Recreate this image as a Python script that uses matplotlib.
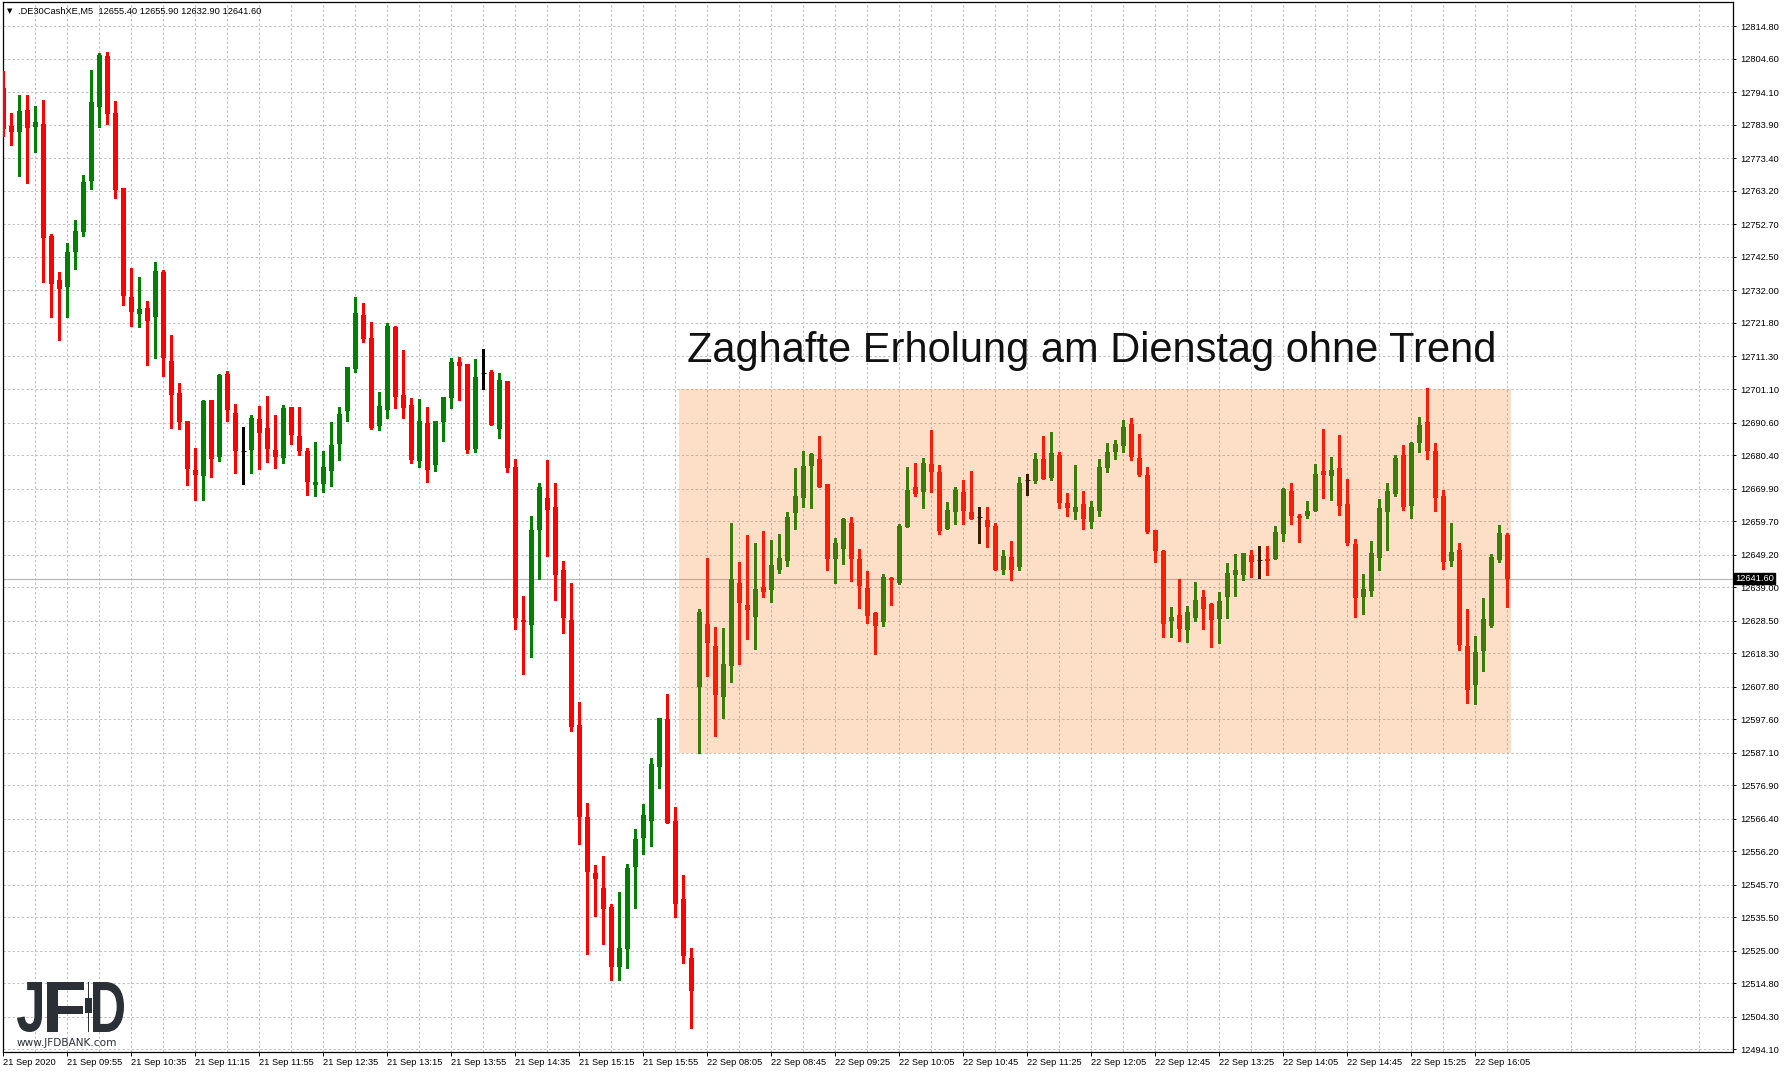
import matplotlib
matplotlib.use('Agg')
import matplotlib.pyplot as plt
import numpy as np
from matplotlib.patches import Rectangle, PathPatch
from matplotlib.textpath import TextPath
from matplotlib.font_manager import FontProperties
from matplotlib.transforms import Affine2D, IdentityTransform, blended_transform_factory

# DE30, M5 candles, 21 Sep 09:15 .. 22 Sep 16:25
o = [12795.5, 12783.6, 12781.7, 12788.6, 12783.2, 12784.2, 12749.1, 12735.3, 12733.1, 12744.1,
     12750.3, 12766.3, 12789.5, 12805.5, 12787.6, 12764.1, 12729.9, 12724.6, 12726.5, 12723.7,
     12737.8, 12709.9, 12699.9, 12691.1, 12675.7, 12673.8, 12697.7, 12679.8, 12705.8, 12693.6,
     12681.6, 12682.0, 12691.7, 12688.9, 12682.0, 12679.5, 12695.5, 12686.4, 12681.7, 12671.0,
     12671.3, 12675.4, 12683.9, 12694.2, 12707.4, 12724.3, 12717.1, 12689.5, 12694.5, 12720.6,
     12699.2, 12696.1, 12678.5, 12690.5, 12677.3, 12690.8, 12698.3, 12709.6, 12709.0, 12682.3,
     12706.1, 12706.4, 12688.6, 12703.6, 12676.5, 12628.6, 12627.0, 12656.9, 12666.9, 12664.1,
     12644.4, 12628.6, 12595.7, 12566.9, 12549.3, 12544.6, 12538.7, 12520.0, 12525.5, 12551.3,
     12560.4, 12565.6, 12582.7, 12597.6, 12565.6, 12541.1, 12522.7, 12607.6, 12627.4, 12620.5,
     12604.6, 12614.4, 12640.3, 12633.4, 12629.7, 12639.0, 12638.1, 12644.4, 12647.2, 12662.2,
     12666.9, 12677.0, 12679.2, 12671.3, 12647.8, 12651.0, 12659.1, 12647.8, 12638.7, 12630.9,
     12628.1, 12641.9, 12640.3, 12657.8, 12670.4, 12668.8, 12677.6, 12675.1, 12657.2, 12662.5,
     12668.8, 12662.5, 12661.0, 12660.0, 12658.2, 12644.4, 12648.4, 12645.3, 12672.6, 12672.3,
     12679.2, 12673.2, 12680.4, 12665.4, 12662.5, 12665.1, 12659.4, 12662.9, 12676.3, 12681.4,
     12683.2, 12690.1, 12679.5, 12674.1, 12656.9, 12650.3, 12628.4, 12630.3, 12625.5, 12629.3,
     12635.9, 12633.7, 12629.0, 12635.9, 12642.8, 12642.8, 12649.1, 12647.5, 12647.8, 12647.8,
     12655.6, 12669.1, 12661.3, 12661.3, 12662.9, 12675.4, 12673.8, 12676.3, 12665.1, 12652.5,
     12635.9, 12637.8, 12648.1, 12662.5, 12668.2, 12680.4, 12664.4, 12684.2, 12690.8, 12681.7,
     12667.6, 12647.2, 12650.6, 12620.5, 12608.3, 12619.0, 12626.8, 12647.5, 12655.4]
h = [12800.8, 12787.6, 12793.3, 12793.3, 12789.8, 12791.7, 12749.7, 12737.8, 12746.9, 12754.1,
     12768.2, 12801.1, 12806.4, 12806.8, 12791.4, 12764.1, 12739.0, 12736.2, 12728.7, 12740.9,
     12738.4, 12718.0, 12703.0, 12691.1, 12682.6, 12697.7, 12697.7, 12705.8, 12706.8, 12696.4,
     12689.2, 12693.0, 12695.8, 12698.9, 12693.0, 12696.1, 12695.5, 12695.5, 12682.6, 12684.5,
     12681.7, 12690.8, 12695.5, 12708.0, 12729.9, 12728.1, 12722.1, 12700.2, 12721.8, 12720.9,
     12713.3, 12698.3, 12698.0, 12695.5, 12691.1, 12698.6, 12710.8, 12711.1, 12709.0, 12710.5,
     12713.7, 12707.1, 12706.1, 12703.6, 12679.3, 12636.3, 12661.4, 12671.6, 12678.8, 12671.7,
     12647.1, 12640.2, 12602.9, 12571.3, 12551.8, 12554.7, 12539.6, 12543.3, 12552.2, 12563.1,
     12570.9, 12585.3, 12597.9, 12605.5, 12570.0, 12548.9, 12526.0, 12632.0, 12648.1, 12626.5,
     12626.2, 12659.0, 12646.9, 12655.3, 12652.8, 12656.6, 12653.8, 12655.7, 12662.5, 12676.3,
     12681.7, 12681.0, 12686.4, 12671.3, 12654.4, 12660.7, 12661.0, 12651.0, 12644.1, 12631.2,
     12643.1, 12642.2, 12658.8, 12676.7, 12677.9, 12679.5, 12688.3, 12677.3, 12665.7, 12670.4,
     12672.6, 12675.4, 12664.1, 12664.1, 12659.1, 12650.5, 12653.5, 12673.5, 12674.5, 12681.0,
     12686.4, 12687.6, 12681.4, 12668.5, 12677.3, 12669.1, 12666.0, 12679.2, 12684.2, 12685.1,
     12691.4, 12692.0, 12687.0, 12676.7, 12656.9, 12650.6, 12632.8, 12641.5, 12633.1, 12640.6,
     12638.1, 12634.0, 12637.5, 12646.6, 12649.4, 12649.7, 12650.6, 12651.9, 12651.9, 12658.2,
     12670.1, 12671.6, 12661.9, 12666.0, 12677.6, 12688.6, 12679.8, 12686.7, 12672.9, 12654.1,
     12643.1, 12653.5, 12666.6, 12671.6, 12680.4, 12683.5, 12684.5, 12692.3, 12701.4, 12684.2,
     12669.4, 12659.1, 12652.8, 12632.1, 12623.7, 12635.6, 12649.4, 12658.5, 12655.9]
l = [12780.5, 12777.6, 12767.9, 12765.7, 12775.4, 12734.6, 12723.7, 12716.5, 12723.7, 12738.7,
     12749.1, 12763.8, 12783.2, 12784.2, 12761.0, 12727.4, 12720.9, 12720.5, 12708.6, 12710.8,
     12705.2, 12688.9, 12688.6, 12671.0, 12666.3, 12666.3, 12673.5, 12678.5, 12691.1, 12674.8,
     12671.3, 12674.8, 12676.0, 12678.2, 12676.3, 12677.9, 12683.9, 12680.4, 12667.9, 12667.6,
     12668.8, 12670.7, 12678.9, 12691.1, 12706.4, 12715.8, 12688.6, 12688.3, 12692.0, 12695.2,
     12692.0, 12677.9, 12676.7, 12672.0, 12675.4, 12684.8, 12695.2, 12697.7, 12681.1, 12681.4,
     12701.1, 12689.8, 12685.8, 12675.1, 12625.9, 12611.9, 12617.2, 12641.4, 12648.8, 12635.0,
     12624.7, 12593.9, 12558.5, 12524.0, 12535.9, 12527.2, 12515.9, 12515.9, 12519.7, 12538.3,
     12555.4, 12557.8, 12575.9, 12565.0, 12535.7, 12521.3, 12500.8, 12587.0, 12611.1, 12592.4,
     12598.0, 12609.4, 12614.9, 12622.8, 12619.7, 12636.0, 12634.4, 12643.4, 12645.6, 12657.2,
     12664.0, 12663.8, 12670.4, 12644.4, 12640.4, 12646.2, 12640.9, 12632.4, 12627.7, 12618.0,
     12626.8, 12633.4, 12640.0, 12657.8, 12667.6, 12663.8, 12668.8, 12655.7, 12657.2, 12658.8,
     12658.8, 12660.3, 12652.8, 12651.6, 12644.4, 12643.1, 12641.2, 12644.4, 12667.9, 12671.6,
     12672.9, 12672.6, 12663.8, 12661.3, 12660.3, 12657.2, 12657.5, 12661.3, 12675.1, 12679.2,
     12681.4, 12678.8, 12673.8, 12656.0, 12646.9, 12623.4, 12623.4, 12622.1, 12621.8, 12628.4,
     12625.9, 12620.2, 12621.5, 12629.3, 12636.2, 12641.2, 12642.2, 12641.9, 12642.8, 12647.8,
     12653.5, 12658.8, 12653.1, 12660.7, 12662.9, 12666.9, 12666.3, 12661.6, 12652.2, 12629.6,
     12630.6, 12636.2, 12644.4, 12650.6, 12667.6, 12663.2, 12660.7, 12681.4, 12679.2, 12662.9,
     12644.7, 12645.6, 12619.3, 12602.7, 12602.3, 12612.7, 12626.5, 12646.9, 12632.9]
c = [12782.7, 12781.5, 12788.3, 12783.0, 12784.8, 12748.5, 12734.0, 12732.5, 12744.1, 12750.6,
     12766.0, 12791.1, 12805.8, 12787.3, 12763.5, 12730.3, 12725.2, 12726.2, 12722.4, 12738.1,
     12710.8, 12699.2, 12690.8, 12676.0, 12674.2, 12697.4, 12679.2, 12705.5, 12694.5, 12681.7,
     12681.6, 12692.0, 12687.3, 12682.3, 12679.8, 12695.2, 12686.7, 12681.7, 12671.9, 12671.9,
     12676.7, 12683.6, 12693.3, 12708.0, 12724.9, 12716.8, 12688.9, 12695.8, 12720.9, 12698.6,
     12695.2, 12678.9, 12691.1, 12675.7, 12691.1, 12698.6, 12709.6, 12708.3, 12682.0, 12704.9,
     12706.1, 12689.8, 12703.9, 12676.3, 12629.4, 12628.1, 12656.9, 12670.4, 12663.2, 12642.8,
     12629.2, 12595.1, 12566.9, 12549.7, 12547.4, 12538.1, 12520.0, 12526.0, 12550.9, 12560.0,
     12567.5, 12583.5, 12597.9, 12565.0, 12539.6, 12523.3, 12512.3, 12631.2, 12621.4, 12605.1,
     12614.9, 12641.5, 12634.1, 12631.9, 12638.4, 12637.5, 12645.9, 12648.1, 12661.0, 12667.6,
     12677.0, 12680.7, 12670.4, 12647.8, 12652.8, 12660.4, 12647.8, 12639.3, 12629.9, 12626.8,
     12642.2, 12641.2, 12658.2, 12669.4, 12668.2, 12677.9, 12675.1, 12656.6, 12663.2, 12669.4,
     12662.9, 12660.3, 12661.0, 12657.8, 12644.4, 12648.8, 12644.4, 12671.6, 12672.6, 12679.2,
     12672.9, 12681.0, 12665.4, 12663.8, 12664.1, 12660.3, 12664.1, 12676.7, 12681.4, 12683.9,
     12689.2, 12679.8, 12674.1, 12656.3, 12650.3, 12627.4, 12629.6, 12625.8, 12631.2, 12635.0,
     12632.1, 12628.7, 12634.6, 12643.4, 12644.4, 12649.7, 12646.9, 12647.5, 12647.2, 12656.3,
     12669.8, 12661.3, 12660.7, 12662.9, 12674.5, 12674.1, 12675.7, 12664.4, 12652.8, 12635.6,
     12638.4, 12649.7, 12663.8, 12669.1, 12679.5, 12664.1, 12684.2, 12689.8, 12681.7, 12666.9,
     12646.9, 12650.0, 12620.8, 12606.7, 12618.7, 12629.0, 12648.4, 12656.0, 12641.6]

x_labels = ['21 Sep 2020', '21 Sep 09:55', '21 Sep 10:35', '21 Sep 11:15', '21 Sep 11:55',
            '21 Sep 12:35', '21 Sep 13:15', '21 Sep 13:55', '21 Sep 14:35', '21 Sep 15:15',
            '21 Sep 15:55', '22 Sep 08:05', '22 Sep 08:45', '22 Sep 09:25', '22 Sep 10:05',
            '22 Sep 10:45', '22 Sep 11:25', '22 Sep 12:05', '22 Sep 12:45', '22 Sep 13:25',
            '22 Sep 14:05', '22 Sep 14:45', '22 Sep 15:25', '22 Sep 16:05']
y_labels = ['12814.80', '12804.60', '12794.10', '12783.90', '12773.40', '12763.20', '12752.70',
            '12742.50', '12732.00', '12721.80', '12711.30', '12701.10', '12690.60', '12680.40',
            '12669.90', '12659.70', '12649.20', '12639.00', '12628.50', '12618.30', '12607.80',
            '12597.60', '12587.10', '12576.90', '12566.40', '12556.20', '12545.70', '12535.50',
            '12525.00', '12514.80', '12504.30', '12494.10']

symbol = '.DE30CashXE,M5'
title = 'Zaghafte Erholung am Dienstag ohne Trend'
box_x = (84.45, 188.5)
box_y = (12587.1, 12701.1)

W, H = 1784, 1073
TICKFONT = 'Liberation Sans'

fig = plt.figure(figsize=(W / 100, H / 100), dpi=100, facecolor='white')
ax = fig.add_axes([2.5 / W, 1 - 1052 / H, (1733 - 2.5) / W, (1052 - 2) / H])

x = np.arange(len(c))
o_a, h_a, l_a, c_a = map(np.array, (o, h, l, c))
col = np.where(c_a > o_a, '#008000', np.where(c_a < o_a, '#FF0000', '#000000'))

ax.vlines(x, l_a, h_a, colors=col, lw=0.75, zorder=3, antialiased=False)
body = np.abs(c_a - o_a)
ax.bar(x, body, bottom=np.minimum(o_a, c_a), width=0.625, color=col, lw=0, zorder=3,
       antialiased=False)
doji = body == 0
ax.hlines(c_a[doji], x[doji] - 0.35, x[doji] + 0.35, colors='black', lw=0.75, zorder=3)

# current price line
ax.axhline(c[-1], color='#B4B4B4', lw=0.8, zorder=2)

# range box (drawn on top, semi-transparent like the terminal)
ax.add_patch(Rectangle((box_x[0], box_y[0]), box_x[1] - box_x[0], box_y[1] - box_y[0],
                       facecolor='#F77B1D', edgecolor='none', alpha=0.24, zorder=5))
ax.text(85.4, 12709.6, title, fontsize=30, family='Liberation Sans', color='#111111',
        va='baseline', ha='left', zorder=6)

ax.set_xlim(-0.1, 216.2)
ax.set_ylim(12493.3, 12822.4)

ax.set_xticks(np.arange(len(x_labels)) * 8)
ax.set_xticklabels(x_labels, fontsize=6.7, family=TICKFONT, ha='left')
ax.set_xticks(np.arange(4, 217, 8), minor=True)
ax.set_yticks([float(v) for v in y_labels])
ax.set_yticklabels(y_labels, fontsize=6.7, family=TICKFONT)
ax.yaxis.tick_right()
ax.tick_params(axis='x', which='major', direction='out', length=3, width=0.7, pad=1.5)
ax.tick_params(axis='x', which='minor', length=0)
ax.tick_params(axis='y', direction='out', length=2.5, width=0.7, pad=2.5)

grid_kw = dict(color='#C0C0C0', lw=0.75, linestyle=(0, (2.2, 2.2)))
ax.grid(True, axis='x', which='both', **grid_kw)
ax.grid(True, axis='y', which='major', **grid_kw)
ax.set_axisbelow(True)
for s in ax.spines.values():
    s.set_color('black')
    s.set_linewidth(0.9)

# last price tag on the price scale
tr = blended_transform_factory(ax.transAxes, ax.transData)
ax.text(1.0012, c[-1], f'{c[-1]:.2f}', transform=tr, fontsize=6.7, family=TICKFONT,
        color='white', va='center', ha='left', zorder=7, clip_on=False,
        bbox=dict(facecolor='black', edgecolor='black', pad=0.8))

# header line
fig.text(7 / W, 1 - 11 / H, '\u25bc', fontsize=5, family='DejaVu Sans', va='center', ha='left')
fig.text(18 / W, 1 - 11 / H,
         f'{symbol}  {o[-1]:.2f} {h[-1]:.2f} {l[-1]:.2f} {c[-1]:.2f}',
         fontsize=6.7, family=TICKFONT, va='center', ha='left')

# JFD logo
logo_col = '#2B3036'
fp = FontProperties(family='Liberation Sans', weight='bold')


def logo_letter(ch, x0, x1, y0, y1):
    tp = TextPath((0, 0), ch, size=100, prop=fp)
    e = tp.get_extents()
    t = (Affine2D().translate(-e.x0, -e.y0)
         .scale((x1 - x0) / e.width, (y1 - y0) / e.height)
         .translate(x0, H - y1))
    fig.add_artist(PathPatch(t.transform_path(tp), facecolor=logo_col, edgecolor='none',
                             transform=IdentityTransform()))


logo_letter('J', 17, 42, 982, 1032)
logo_letter('F', 47, 84, 982, 1032)
logo_letter('D', 93, 124, 982, 1032)
fig.add_artist(Rectangle((87.5, H - 1032), 1.4, 50, facecolor=logo_col, edgecolor='none',
                         transform=IdentityTransform()))
fig.add_artist(Rectangle((85, H - 1013), 6.5, 15, facecolor=logo_col, edgecolor='none',
                         transform=IdentityTransform()))
fig.text(17 / W, 1 - 1043 / H, 'www.JFDBANK.com', fontsize=7.6, family='DejaVu Sans',
         color=logo_col, va='center', ha='left')

fig.savefig('out.png', dpi=100, facecolor='white')
